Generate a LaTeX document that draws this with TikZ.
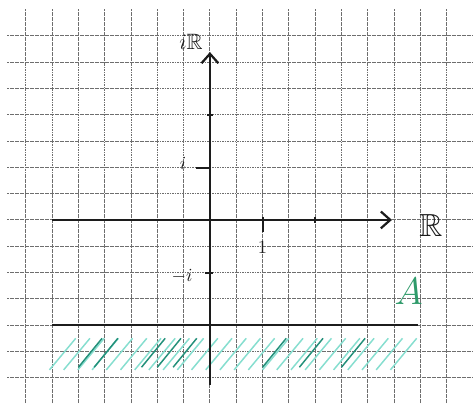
\documentclass[tikz,border=0pt]{standalone}
\usepackage{amssymb}
\usetikzlibrary{arrows.meta}
\definecolor{ink}{HTML}{1C1C1C}
\definecolor{gridgray}{HTML}{6E6E6E}
\definecolor{hatchlight}{HTML}{86DECF}
\definecolor{hatchdark}{HTML}{23907A}
\definecolor{agreen}{HTML}{2E9A6A}
\tikzset{gridline/.style={gridgray,line width=0.5pt,dash pattern=on 1pt off 0.35pt},axis/.style={ink,line width=1.5pt,-{Straight Barb[length=1.8mm,width=3.2mm,line width=1.2pt]}},tickmark/.style={ink,line width=1.1pt},hatch/.style={line width=0.8pt},lbl/.style={ink,inner sep=1pt}}

\begin{document}
\begin{tikzpicture}
\useasboundingbox (-3.99,-3.48) rectangle (5.0,4.18);
% grid paper
\foreach \x in {-3.5,-3,...,4.5} \draw[gridline] (\x,-3.48) -- (\x,4.0);
\foreach \y in {-3,-2.5,...,3.5} \draw[gridline] (-3.85,\y) -- (5.0,\y);
% hatching of A
\foreach \x in {-3.05,-2.78,...,3.5} \draw[hatch,hatchlight] (\x,-2.85) -- ++(0.5,0.6);
\foreach \x in {-2.5,-2.2,-1.3,-1.0,-0.7,1.0,1.7,2.5} \draw[hatch,hatchdark] (\x,-2.8) -- ++(0.45,0.55);
\coordinate (bl) at (-3,-2); \coordinate (br) at (3.95,-2);
\draw[ink,line width=1.4pt] (bl) -- (br);
% axes
\coordinate (xmin) at (-3,0); \coordinate (xmax) at (3.46,0);
\coordinate (ymin) at (0,-3.14); \coordinate (ymax) at (0,3.19);
\draw[axis] (xmin) -- (xmax); \draw[axis] (ymin) -- (ymax);
\node[lbl,font=\LARGE] (realR) at (4.2,-0.1) {$\mathbb{R}$};
\node[lbl,font=\large] (imagR) at (-0.36,3.38) {$i\mathbb{R}$};
% ticks
\coordinate (t1a) at (1,0.06); \coordinate (t1b) at (1,-0.23);
\coordinate (t2a) at (2,0.05); \coordinate (t2b) at (2,-0.05);
\coordinate (ti1a) at (-0.27,0.99); \coordinate (ti1b) at (0,0.99);
\coordinate (ti2a) at (-0.05,2.0); \coordinate (ti2b) at (0.05,2.0);
\coordinate (tm1a) at (-0.1,-1); \coordinate (tm1b) at (0.06,-1);
\draw[tickmark] (t1a) -- (t1b); \draw[tickmark] (t2a) -- (t2b);
\draw[tickmark] (ti1a) -- (ti1b); \draw[tickmark] (ti2a) -- (ti2b); \draw[tickmark] (tm1a) -- (tm1b);
\node[lbl] (one) at (1.0,-0.52) {$1$};
\node[lbl] (imag) at (-0.51,1.08) {$i$};
\node[lbl] (minusi) at (-0.53,-1.06) {$-i$};
\node[agreen,inner sep=1pt,font=\huge] (setA) at (3.78,-1.35) {$A$};
\end{tikzpicture}
\end{document}
